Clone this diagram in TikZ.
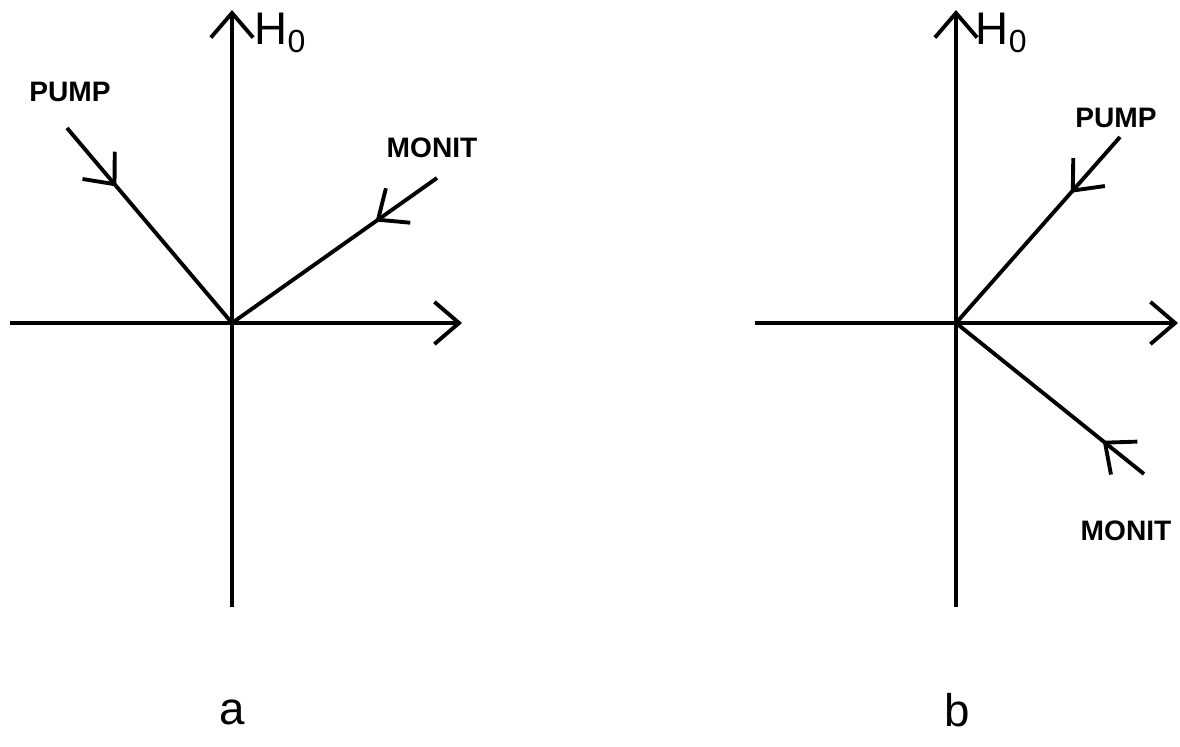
\documentclass[tikz,border=0pt]{standalone}
\usepackage{fontspec}
\setmainfont{Liberation Sans}
\usetikzlibrary{arrows.meta,decorations.markings}
\begin{document}
\begin{tikzpicture}[x=0.01cm,y=-0.01cm,
  axisline/.style={line width=1.1pt,-{Straight Barb[length=7pt,width=12pt,line width=1.1pt]}},
  ray/.style={line width=1.1pt,decoration={markings,mark=at position #1 with {\arrow{Straight Barb[length=7pt,width=12pt,line width=1.1pt]}}},postaction={decorate}},
  lbl/.style={font=\bfseries\fontsize{8}{9}\selectfont,inner sep=0pt},
  hlbl/.style={font=\fontsize{13}{14}\selectfont,inner sep=0pt},
  caplbl/.style={font=\fontsize{13}{15}\selectfont,inner sep=0pt}]
\useasboundingbox (0,0) rectangle (1180,746);
% panel a
\coordinate (oa) at (232,323);
\coordinate (atop) at (232,10);
\coordinate (abot) at (232,607);
\coordinate (aleft) at (10,323);
\coordinate (aright) at (462,323);
\coordinate (apump) at (67,128);
\coordinate (amonit) at (437,178);
\draw[line width=1.1pt] (abot) -- (oa);
\draw[axisline] (oa) -- (atop);
\draw[line width=1.1pt] (aleft) -- (oa);
\draw[axisline] (oa) -- (aright);
\draw[ray=0.3] (apump) -- (oa);
\draw[ray=0.3] (amonit) -- (oa);
\node[hlbl] (ah) at (281,33) {H\textsubscript{0}};
\node[lbl] (apl) at (70,92) {PUMP};
\node[lbl] (aml) at (432,148) {MONIT};
\node[caplbl] (ca) at (232,712) {a};
% panel b
\coordinate (ob) at (956,323);
\coordinate (btop) at (956,10);
\coordinate (bbot) at (956,607);
\coordinate (bleft) at (755,323);
\coordinate (bright) at (1178,323);
\coordinate (bpump) at (1120,137);
\coordinate (bmonit) at (1144,474);
\draw[line width=1.1pt] (bbot) -- (ob);
\draw[axisline] (ob) -- (btop);
\draw[line width=1.1pt] (bleft) -- (ob);
\draw[axisline] (ob) -- (bright);
\draw[ray=0.3] (bpump) -- (ob);
\draw[ray=0.22] (bmonit) -- (ob);
\node[hlbl] (bh) at (1002,33) {H\textsubscript{0}};
\node[lbl] (bpl) at (1116,118) {PUMP};
\node[lbl] (bml) at (1126,531) {MONIT};
\node[caplbl] (cb) at (957,710) {b};
\end{tikzpicture}
\end{document}
